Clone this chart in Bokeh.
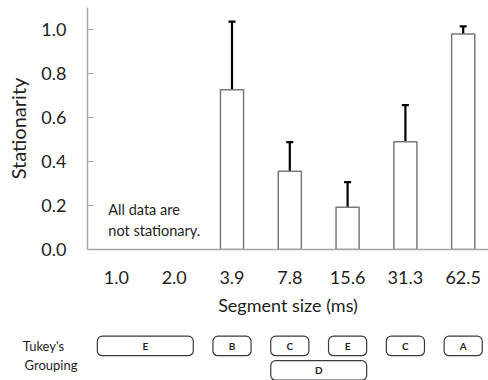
import numpy as np
from bokeh.plotting import figure
from bokeh.models import ColumnDataSource, Range1d, FixedTicker, Whisker, TeeHead, NumeralTickFormatter
from bokeh.layouts import column
from bokeh.core.properties import value
from bokeh.embed import file_html
from bokeh.resources import INLINE

# ---- data ----
segment_sizes = ["1.0", "2.0", "3.9", "7.8", "15.6", "31.3", "62.5"]
measured_idx = [2, 3, 4, 5, 6]
stationarity = [0.726, 0.356, 0.192, 0.490, 0.980]
stationarity_err = [0.310, 0.132, 0.114, 0.166, 0.034]
y_ticks = [0.0, 0.2, 0.4, 0.6, 0.8, 1.0]

tukey_title_lines = ["Tukey's", "Grouping"]
tukey_letters = ["E", "B", "C", "E", "C", "A", "D"]
tukey_first = [0, 2, 3, 4, 5, 6, 3]
tukey_last = [1, 2, 3, 4, 5, 6, 4]
tukey_row = [0, 0, 0, 0, 0, 0, 1]

# ---- layout constants ----
FONT = "Lato"
TXT = "#1e1e1e"
AXIS_C = "#a6a6a6"
TOTAL_W = 488
LEFT = 87
FRAME_W = TOTAL_W - LEFT
PITCH = 57.8
X0 = -0.5
X1 = X0 + FRAME_W / PITCH
MAIN_H = 330
STRIP_H = 380 - MAIN_H

p = figure(width=TOTAL_W, height=MAIN_H, frame_width=FRAME_W, frame_height=242,
           x_range=Range1d(X0, X1), y_range=Range1d(0, 1.1),
           output_backend="svg", toolbar_location=None,
           min_border_left=LEFT, min_border_right=0, min_border_top=7,
           min_border_bottom=MAIN_H - 7 - 242)
p.xgrid.visible = False
p.ygrid.visible = False
p.outline_line_color = None
p.background_fill_color = "white"

p.vbar(x=measured_idx, top=stationarity, bottom=0, width=0.4,
       fill_color="white", line_color="#7a7a7a", line_width=1.5)

upper = [s + e for s, e in zip(stationarity, stationarity_err)]
src = ColumnDataSource(dict(x=measured_idx, lower=stationarity, upper=upper))
w = Whisker(base="x", lower="lower", upper="upper", source=src,
            line_color="black", line_width=2.2,
            upper_head=TeeHead(size=7, line_width=2.2, line_color="black"),
            lower_head=None)
p.add_layout(w)

p.text(x=[-0.14, -0.14], y=[0.182, 0.086], text=["All data are", "not stationary."],
       text_font=value(FONT), text_font_size="14.5px", text_color=TXT,
       text_align="left", text_baseline="middle")

ya = p.yaxis[0]
ya.ticker = FixedTicker(ticks=y_ticks)
ya.formatter = NumeralTickFormatter(format="0.0")
ya.major_tick_in = 6
ya.major_tick_out = 0
ya.minor_tick_line_color = None
ya.axis_line_color = AXIS_C
ya.axis_line_width = 1.5
ya.major_tick_line_color = AXIS_C
ya.major_label_text_font = FONT
ya.major_label_text_font_size = "18px"
ya.major_label_text_color = TXT
ya.major_label_standoff = 21
ya.axis_label = "Stationarity"
ya.axis_label_text_font = FONT
ya.axis_label_text_font_size = "20px"
ya.axis_label_text_font_style = "normal"
ya.axis_label_text_color = TXT
ya.axis_label_standoff = 8

xa = p.xaxis[0]
xa.ticker = FixedTicker(ticks=list(range(len(segment_sizes))))
xa.major_label_overrides = {i: s for i, s in enumerate(segment_sizes)}
xa.major_tick_in = 0
xa.major_tick_out = 0
xa.minor_tick_line_color = None
xa.axis_line_color = AXIS_C
xa.axis_line_width = 1.5
xa.major_label_text_font = FONT
xa.major_label_text_font_size = "18px"
xa.major_label_text_color = TXT
xa.major_label_standoff = 21
xa.axis_label = "Segment size (ms)"
xa.axis_label_text_font = FONT
xa.axis_label_text_font_size = "18px"
xa.axis_label_text_font_style = "normal"
xa.axis_label_text_color = TXT
xa.axis_label_standoff = 7

# ---- Tukey grouping strip (frame aligned with the main chart) ----
p2 = figure(width=TOTAL_W, height=STRIP_H, frame_width=FRAME_W, frame_height=STRIP_H,
            x_range=p.x_range, y_range=Range1d(STRIP_H, 0),
            x_axis_location=None, y_axis_location="left",
            output_backend="svg", toolbar_location=None,
            min_border_left=LEFT, min_border_right=0, min_border_top=0, min_border_bottom=0)
p2.xgrid.visible = False
p2.ygrid.visible = False
p2.outline_line_color = None
ta = p2.yaxis[0]
ta.ticker = FixedTicker(ticks=[])
ta.axis_line_color = None
ta.major_tick_line_color = None
ta.minor_tick_line_color = None
ta.major_label_standoff = 0
# nbsp pads the first line so both lines start flush left
ta.axis_label = tukey_title_lines[0] + "\u00a0" * 4 + "\n" + tukey_title_lines[1]
ta.axis_label_orientation = "horizontal"
ta.axis_label_text_align = "left"
ta.axis_label_text_font = FONT
ta.axis_label_text_font_size = "13px"
ta.axis_label_text_font_style = "normal"
ta.axis_label_text_color = TXT
ta.axis_label_standoff = 10

ROW_TOP = 5.7
ROW_STEP = 24.5
BOX_H = 19.5
PAD = 0.33
left = [f - PAD for f in tukey_first]
right = [l + PAD for l in tukey_last]
top = [ROW_TOP + r * ROW_STEP for r in tukey_row]
bottom = [t + BOX_H for t in top]
mid_x = [(f + l) / 2 for f, l in zip(tukey_first, tukey_last)]
mid_y = [t + BOX_H / 2 for t in top]
p2.quad(left=left, right=right, top=top, bottom=bottom, fill_color="white",
        line_color="#3a3a3a", line_width=1.2, border_radius=5)
p2.text(x=mid_x, y=mid_y, text=tukey_letters, text_font=value(FONT),
        text_font_size="10px", text_font_style="bold", text_color=TXT,
        text_align="center", text_baseline="middle")

layout = column(p, p2, spacing=0)
open("out.html", "w").write(file_html(layout, INLINE))
